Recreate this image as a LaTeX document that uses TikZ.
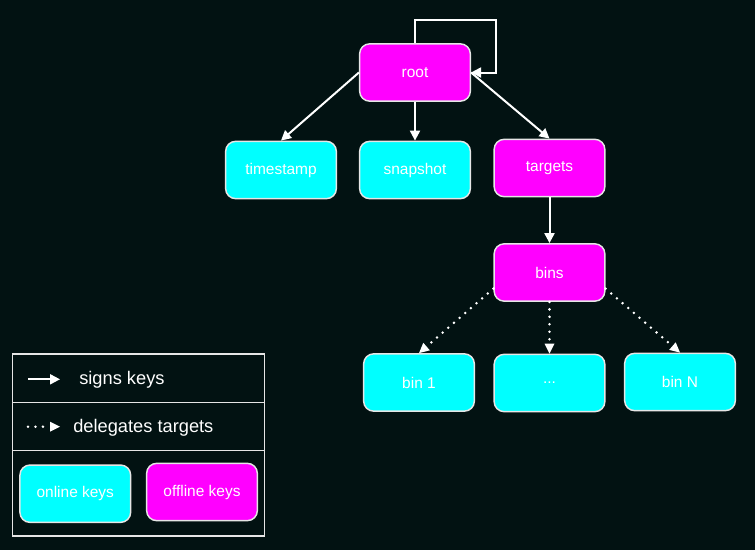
\documentclass[tikz,border=0pt]{standalone}
\usepackage{fontspec}
\setmainfont{Liberation Sans}
\usetikzlibrary{arrows.meta}
\definecolor{bg}{HTML}{021212}
\definecolor{cy}{HTML}{00FFFF}
\definecolor{mg}{HTML}{FF00FF}
\definecolor{edge}{HTML}{E6E6E6}
\begin{document}
\begin{tikzpicture}[x=0.75pt,y=-0.75pt,
  box/.style={draw=edge,line width=1.1pt,rounded corners=7.5pt,minimum width=83pt,minimum height=43pt,inner sep=0pt,text=white,font=\fontsize{11.6}{13}\selectfont},
  online/.style={box,fill=cy},
  offline/.style={box,fill=mg},
  arr/.style={draw=white,line width=1.5pt,-{Triangle[length=7.5pt,width=7.5pt]}},
  dotarr/.style={draw=white,line width=2.1pt,line cap=round,dash pattern=on 0pt off 5.6pt,-{Triangle[length=7.5pt,width=7.5pt,line width=0pt]}},
  legtext/.style={text=white,anchor=west,inner sep=0pt,font=\fontsize{13.7}{15}\selectfont}]
\fill[bg] (0,0) rectangle (755,550);
\useasboundingbox (0,0) rectangle (755,550);
% nodes
\node[offline] (root) at (415,72.5) {root};
\node[online] (timestamp) at (281,170) {timestamp};
\node[online] (snapshot) at (415,170) {snapshot};
\node[offline] (targets) at (549.5,168) {targets};
\node[offline] (bins) at (549.5,272.5) {bins};
\node[online] (bin1) at (419,382.5) {bin 1};
\node[online] (dots) at (549.5,383) {...};
\node[online] (binN) at (680,382) {bin N};
% connectors
\coordinate (loopTL) at (415,20);
\coordinate (loopTR) at (496,20);
\coordinate (loopBR) at (496,72.5);
\draw[arr] (root.north) -- (loopTL) -- (loopTR) -- (loopBR) -- (root.east);
\draw[arr] (root.west) -- (timestamp.north);
\draw[arr] (root.south) -- (snapshot.north);
\draw[arr] (root.east) -- (targets.north);
\draw[arr] (targets.south) -- (bins.north);
\draw[dotarr] (bins.196) -- (bin1.north);
\draw[dotarr] (bins.south) -- (dots.north);
\draw[dotarr] (bins.-16) -- (binN.north);
% legend
\draw[edge,line width=1.1pt] (12.7,354) rectangle (264.3,536);
\draw[edge,line width=1.1pt] (12.7,402.7) -- (264.3,402.7);
\draw[edge,line width=1.1pt] (12.7,450.7) -- (264.3,450.7);
\coordinate (l1a) at (28,379.3);
\coordinate (l1b) at (60,379.3);
\coordinate (l2a) at (28,426.7);
\coordinate (l2b) at (60,426.7);
\draw[arr] (l1a) -- (l1b);
\draw[dotarr] (l2a) -- (l2b);
\node[legtext] (lsigns) at (79,379.3) {signs keys};
\node[legtext] (ldeleg) at (73,427.5) {delegates targets};
\node[online] (lonline) at (75.3,493.7) {online keys};
\node[offline] (loffline) at (202,492) {offline keys};
\end{tikzpicture}
\end{document}
